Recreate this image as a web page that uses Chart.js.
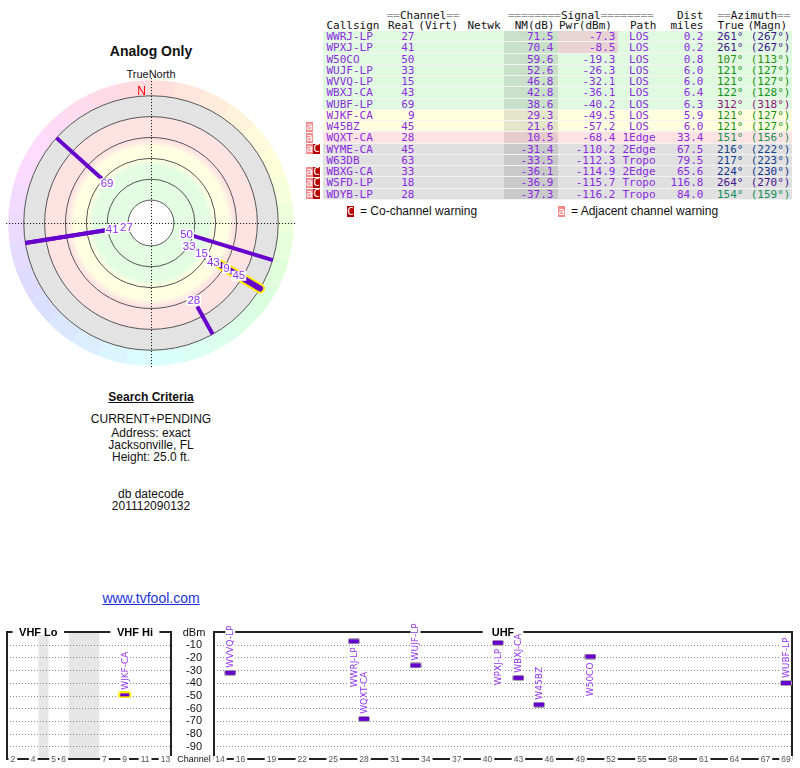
<!DOCTYPE html>
<html>
<head>
<meta charset="utf-8">
<title>Analog Only</title>
<script src="https://cdn.jsdelivr.net/npm/chart.js@4.4.1/dist/chart.umd.min.js"></script>
<style>
  html, body { margin: 0; padding: 0; }
  body { position: relative; width: 800px; height: 768px; overflow: hidden; background: #fff; color: #111;
         font-family: "Liberation Sans", Arial, sans-serif; }
  .abs { position: absolute; white-space: pre; }
  .mid { left: 0; width: 302px; text-align: center; font-size: 12px; line-height: 14px; }
  #tbl { position: absolute; left: 0; top: 0; font-family: "DejaVu Sans Mono", monospace; font-size: 11px; }
  .cell { position: absolute; white-space: pre; overflow: visible; }
  canvas { position: absolute; }
</style>
</head>
<body>
<div class="abs mid" style="top:43px;font-size:14px;font-weight:bold;line-height:17px">Analog Only</div>
<div class="abs mid" style="top:67.5px;font-size:11px;line-height:13px">TrueNorth</div>

<div class="abs mid" style="top:390px;font-weight:bold;text-decoration:underline">Search Criteria</div>
<div class="abs mid" style="top:412.3px">CURRENT+PENDING</div>
<div class="abs mid" style="top:425.7px">Address: exact</div>
<div class="abs mid" style="top:437.6px">Jacksonville, FL</div>
<div class="abs mid" style="top:450.3px">Height: 25.0 ft.</div>
<div class="abs mid" style="top:487.3px">db datecode</div>
<div class="abs mid" style="top:499px">201112090132</div>
<div class="abs mid" style="top:590px;font-size:14px;line-height:16px"><a href="#" style="color:#2233dd">www.tvfool.com</a></div>

<div id="tbl"></div>

<canvas id="polar" width="302" height="306" style="left:0;top:70px"></canvas>
<canvas id="vhf" width="178" height="168" style="left:0;top:600px"></canvas>
<canvas id="uhf" width="624" height="168" style="left:176px;top:600px"></canvas>

<script>
// Stations, in the order of the reference table
const callsigns = ['WWRJ-LP', 'WPXJ-LP', 'W50CO', 'WUJF-LP', 'WVVQ-LP', 'WBXJ-CA', 'WUBF-LP', 'WJKF-CA',
                   'W45BZ', 'WQXT-CA', 'WYME-CA', 'W63DB', 'WBXG-CA', 'WSFD-LP', 'WDYB-LP'];
const channels = [27, 41, 50, 33, 15, 43, 69, 9, 45, 28, 45, 63, 33, 18, 28];
const noiseMargin = [71.5, 70.4, 59.6, 52.6, 46.8, 42.8, 38.6, 29.3, 21.6, 10.5, -31.4, -33.5, -36.1, -36.9, -37.3];
const powerDbm = [-7.3, -8.5, -19.3, -26.3, -32.1, -36.1, -40.2, -49.5, -57.2, -68.4, -110.2, -112.3, -114.9, -115.7, -116.2];
const paths = ['LOS', 'LOS', 'LOS', 'LOS', 'LOS', 'LOS', 'LOS', 'LOS', 'LOS', '1Edge', '2Edge', 'Tropo', '2Edge', 'Tropo', 'Tropo'];
const distMiles = [0.2, 0.2, 0.8, 6.0, 6.0, 6.4, 6.3, 5.9, 6.0, 33.4, 67.5, 79.5, 65.6, 116.8, 84.0];
const azTrue = [261, 261, 107, 121, 121, 122, 312, 121, 121, 151, 216, 217, 224, 264, 154];
const azMagn = [267, 267, 113, 127, 127, 128, 318, 127, 127, 156, 222, 223, 230, 270, 159];
const adjWarn = [0, 0, 0, 0, 0, 0, 0, 0, 1, 1, 1, 0, 1, 1, 1];
const coWarn = [0, 0, 0, 0, 0, 0, 0, 0, 0, 0, 1, 0, 1, 1, 1];
const highlighted = 'WJKF-CA';

// Axes
const nmRings = [80, 60, 40, 20, 0, -20];
const dbmTicks = [-10, -20, -30, -40, -50, -60, -70, -80, -90];
const vhfTicks = [2, 4, 5, 6, 7, 9, 11, 13];
const uhfTicks = [14, 16, 19, 22, 25, 28, 31, 34, 37, 40, 43, 46, 49, 52, 55, 58, 61, 64, 67, 69];
const vhfBands = [['VHF Lo', 2, 6], ['VHF Hi', 7, 13]];
const uhfBands = [['UHF', 14, 69]];

const LINE = '#6600cc';
const LABEL = '#9030f0';
const TEXT = '#8a2be2';
const SANS = '"Liberation Sans", Arial, sans-serif';
Chart.defaults.font.family = SANS;

const azColor = az => `hsl(${az}, 75%, 32%)`;

// ---------- station table ----------
const tbl = document.getElementById('tbl');
function put(html, x0, x1, top, h, align, extra) {
    const d = document.createElement('div');
    d.className = 'cell';
    d.style.left = x0 + 'px';
    d.style.width = (x1 - x0) + 'px';
    d.style.top = top + 'px';
    d.style.height = h + 'px';
    d.style.lineHeight = h + 'px';
    d.style.textAlign = align;
    d.innerHTML = html;
    if (extra) Object.assign(d.style, extra);
    tbl.appendChild(d);
    return d;
}
const eq = s => `<span style="color:#9a9a9a">${s}</span>`;

// two header lines
put(eq('==') + 'Channel' + eq('=='), 386.7, 470, 9.5, 11, 'left');
put(eq('========') + 'Signal' + eq('========'), 508, 662, 9.5, 11, 'left');
put('Dist', 660, 703.5, 9.5, 11, 'right');
put(eq('==') + 'Azimuth' + eq('=='), 717.5, 796, 9.5, 11, 'left');
put('Callsign', 326.5, 390, 20.2, 11, 'left');
put('Real', 388, 416, 20.2, 11, 'left');
put('(Virt)', 418.3, 462, 20.2, 11, 'left');
put('Netwk', 467.5, 505, 20.2, 11, 'left');
put('NM(dB)', 505, 554.5, 20.2, 11, 'right');
put('Pwr(dBm)', 559, 620, 20.2, 11, 'left');
put('Path', 630, 660, 20.2, 11, 'left');
put('miles', 660, 703.5, 20.2, 11, 'right');
put('True', 717.5, 745, 20.2, 11, 'left');
put('(Magn)', 747.5, 796, 20.2, 11, 'left');

const ROW_TOP = 31.2, ROW_H = 11.25;
callsigns.forEach((cs, i) => {
    const top = ROW_TOP + i * ROW_H;
    const nm = noiseMargin[i];
    const bg = nm >= 35 ? '#e0fae0' : nm >= 15 ? '#ffffe0' : nm >= 0 ? '#ffe3e3' : '#e0e0e0';
    put('', 323, 792, top, ROW_H, 'left', { background: bg });
    put('', 504, 558, top, ROW_H, 'left', { background: 'rgba(0,0,0,0.1)' });
    if (powerDbm[i] > -10) put('', 558, 618, top, ROW_H, 'left', { background: '#e9d4d4' });
    put('', 323, 792, top + ROW_H - 1, 1, 'left', { background: '#f3f3f3' });

    const c = { color: TEXT };
    put(cs, 326.5, 400, top, ROW_H, 'left', c);
    put(String(channels[i]), 380, 414.5, top, ROW_H, 'right', c);
    put(nm.toFixed(1), 504, 553.5, top, ROW_H, 'right', c);
    put(powerDbm[i].toFixed(1), 558, 615.5, top, ROW_H, 'right', c);
    put(paths[i], 619, 659, top, ROW_H, 'center', c);
    put(distMiles[i].toFixed(1), 660, 703.5, top, ROW_H, 'right', c);
    put(azTrue[i] + '°', 717, 747, top, ROW_H, 'left', { color: azColor(azTrue[i]) });
    put('(' + azMagn[i] + '°)', 745, 790.5, top, ROW_H, 'right', { color: azColor(azTrue[i]) });

    if (adjWarn[i]) put('a', 306, 313, top + 0.6, ROW_H - 1.2, 'center', { background: '#f78a8a', color: '#fff' });
    if (coWarn[i]) put('C', 313, 320, top + 0.6, ROW_H - 1.2, 'center', { background: '#b50000', color: '#fff' });
});

// warning key under the table
put('C', 347, 354, 205.5, 11, 'center', { background: '#b50000', color: '#fff' });
put('= Co-channel warning', 360, 520, 205, 12, 'left', { fontFamily: SANS, fontSize: '12px', color: '#111' });
put('a', 558, 565, 205.5, 11, 'center', { background: '#f78a8a', color: '#fff' });
put('= Adjacent channel warning', 571, 780, 205, 12, 'left', { fontFamily: SANS, fontSize: '12px', color: '#111' });

// ---------- compass plot ----------
const NM_AT_CENTRE = 102;   // noise margin that would sit on the plot centre
const RING_LIMIT = 137;     // outer edge of the azimuth colour wheel, radial units
const nmEdge = nmRings[nmRings.length - 1];

function polarPoint(az, nm) {
    const r = NM_AT_CENTRE - nm, a = az * Math.PI / 180;
    return { x: r * Math.sin(a), y: r * Math.cos(a) };
}

const onPolar = callsigns.map((c, i) => i).filter(i => noiseMargin[i] > nmEdge);
const polarSets = [];
onPolar.forEach(i => {
    const seg = [polarPoint(azTrue[i], noiseMargin[i]), polarPoint(azTrue[i], nmEdge)];
    const base = { data: seg, showLine: true, pointRadius: 0, borderCapStyle: 'butt' };
    if (callsigns[i] === highlighted) {
        polarSets.push({ ...base, borderColor: '#ffee00', borderWidth: 10, borderCapStyle: 'round', order: 1 });
        polarSets.push({ ...base, borderColor: LINE, borderWidth: 6, borderCapStyle: 'round', order: 0 });
    } else {
        polarSets.push({ ...base, borderColor: LINE, borderWidth: 4, order: 2 });
    }
});

function polarGeom(chart) {
    const { x, y } = chart.scales;
    const cx = x.getPixelForValue(0), cy = y.getPixelForValue(0);
    const k = x.getPixelForValue(1) - cx;
    return { cx, cy, k, rad: nm => (NM_AT_CENTRE - nm) * k };
}

const polarFrame = {
    id: 'polarFrame',
    beforeDatasetsDraw(chart) {
        const ctx = chart.ctx;
        const { cx, cy, k, rad } = polarGeom(chart);
        const rEdge = rad(nmEdge), rRing = RING_LIMIT * k;
        ctx.save();

        // azimuth colour wheel round the outside
        for (let s = 0; s < 30; s++) {
            const a0 = -2 + 12 * s;
            const t0 = (a0 - 90) * Math.PI / 180, t1 = (a0 + 12.6 - 90) * Math.PI / 180;
            ctx.beginPath();
            ctx.arc(cx, cy, rRing, t0, t1);
            ctx.arc(cx, cy, rEdge, t1, t0, true);
            ctx.closePath();
            ctx.fillStyle = `hsl(${(a0 + 6 + 360) % 360}, 100%, 93%)`;
            ctx.fill();
        }

        // signal bands
        const g = ctx.createRadialGradient(cx, cy, 0, cx, cy, rEdge);
        const f = nm => rad(nm) / rEdge;
        g.addColorStop(0, '#e2fde2');
        g.addColorStop(f(47), '#e2fde2');
        g.addColorStop(f(41), '#ffffe2');
        g.addColorStop(f(29), '#ffffe2');
        g.addColorStop(f(22), '#ffe3e3');
        g.addColorStop(f(0.2), '#ffe3e3');
        g.addColorStop(f(0), '#e3e3e3');
        g.addColorStop(1, '#e3e3e3');
        ctx.fillStyle = g;
        ctx.beginPath();
        ctx.arc(cx, cy, rEdge, 0, 2 * Math.PI);
        ctx.fill();
        ctx.fillStyle = '#fff';
        ctx.beginPath();
        ctx.arc(cx, cy, rad(nmRings[0]), 0, 2 * Math.PI);
        ctx.fill();

        ctx.strokeStyle = '#555';
        ctx.lineWidth = 1;
        nmRings.forEach(nm => {
            ctx.beginPath();
            ctx.arc(cx, cy, rad(nm), 0, 2 * Math.PI);
            ctx.stroke();
        });

        // dotted cross hairs
        const ext = rRing + 2;
        const hx = Math.round(cx) + 0.5, hy = Math.round(cy) + 0.5;
        ctx.strokeStyle = '#000';
        ctx.setLineDash([1, 2]);
        ctx.beginPath();
        ctx.moveTo(cx - ext, hy); ctx.lineTo(cx + ext, hy);
        ctx.moveTo(hx, cy - ext); ctx.lineTo(hx, cy + ext);
        ctx.stroke();
        ctx.setLineDash([]);

        ctx.fillStyle = '#ff0000';
        ctx.font = '12px ' + SANS;
        ctx.textAlign = 'right';
        ctx.textBaseline = 'middle';
        ctx.fillText('N', cx - 5, cy - rEdge - 4);
        ctx.restore();
    },
    afterDatasetsDraw(chart) {
        const ctx = chart.ctx;
        const { cx, cy, rad } = polarGeom(chart);
        ctx.save();
        ctx.font = '11.5px ' + SANS;
        ctx.textAlign = 'center';
        ctx.textBaseline = 'middle';
        // strongest first; labels on the same bearing get pushed outward
        const order = onPolar.slice().sort((a, b) => noiseMargin[b] - noiseMargin[a]);
        const placed = [];
        order.forEach(i => {
            let r = rad(noiseMargin[i]) - 7;
            placed.forEach(p => {
                if (Math.abs(p.az - azTrue[i]) <= 3 && r < p.r + 14.5) r = p.r + 14.5;
            });
            placed.push({ az: azTrue[i], r });
            const a = azTrue[i] * Math.PI / 180;
            const px = cx + r * Math.sin(a), py = cy - r * Math.cos(a);
            const t = String(channels[i]);
            const w = ctx.measureText(t).width;
            ctx.fillStyle = '#fff';
            ctx.fillRect(px - w / 2 - 1, py - 5, w + 2, 10);
            ctx.fillStyle = LABEL;
            ctx.fillText(t, px, py + 0.5);
        });
        ctx.restore();
    }
};

new Chart(document.getElementById('polar'), {
    type: 'scatter',
    data: { datasets: polarSets },
    options: {
        responsive: false,
        animation: false,
        events: [],
        layout: { padding: { left: 5, right: 5, top: 7, bottom: 7 } },
        scales: {
            x: { display: false, min: -140, max: 140 },
            y: { display: false, min: -140, max: 140 }
        },
        plugins: { legend: { display: false }, tooltip: { enabled: false } }
    },
    plugins: [polarFrame]
});

// ---------- signal strength by channel ----------
// VHF is laid out by the band plan: one empty slot for 72-76 MHz, three for the FM / air gap
const vhfPos = ch => ch <= 4 ? ch - 2 : ch <= 6 ? ch - 1 : ch + 2;
const uhfPos = ch => ch;
const LABEL_FLIP_DBM = -20;   // markers above this get their name hung underneath

function markerImage(glow) {
    const c = document.createElement('canvas');
    const g = c.getContext('2d');
    if (glow) {
        c.width = 13; c.height = 7;
        g.fillStyle = '#ffee00';
        g.beginPath(); g.roundRect(0, 0, 13, 7, 3); g.fill();
        g.fillStyle = LINE;
        g.fillRect(2, 2, 9, 3);
    } else {
        c.width = 12; c.height = 6;
        g.fillStyle = '#a9a9a9';
        g.beginPath(); g.roundRect(0, 0, 12, 6, 2); g.fill();
        g.fillStyle = LINE;
        g.fillRect(1, 1, 10, 4);
    }
    return c;
}
const plainMark = markerImage(false);
const glowMark = markerImage(true);

const vhfIdx = callsigns.map((c, i) => i).filter(i => channels[i] <= 13 && powerDbm[i] >= -100);
const uhfIdx = callsigns.map((c, i) => i).filter(i => channels[i] >= 14 && powerDbm[i] >= -100);

function markerSet(idx, pos) {
    return [{
        data: idx.map(i => ({ x: pos(channels[i]), y: powerDbm[i] })),
        pointStyle: idx.map(i => callsigns[i] === highlighted ? glowMark : plainMark),
        pointRadius: 6,
        clip: false
    }];
}

function spectrumPanel(cfg) {
    return {
        id: 'panel' + cfg.name,
        beforeDatasetsDraw(chart) {
            const { ctx, chartArea: a, scales: { x, y } } = chart;
            ctx.save();
            (cfg.gaps || []).forEach(([p0, p1]) => {
                const x0 = x.getPixelForValue(p0), x1 = x.getPixelForValue(p1);
                ctx.fillStyle = '#e6e6e6';
                ctx.fillRect(x0, a.top, x1 - x0, a.bottom - a.top);
            });
            ctx.strokeStyle = '#8a8a8a';
            ctx.lineWidth = 1;
            ctx.setLineDash([1, 2]);
            dbmTicks.forEach(v => {
                const py = Math.round(y.getPixelForValue(v)) + 0.5;
                ctx.beginPath(); ctx.moveTo(a.left, py); ctx.lineTo(a.right, py); ctx.stroke();
            });
            ctx.setLineDash([]);
            ctx.strokeStyle = '#222';
            ctx.lineWidth = 2;
            ctx.strokeRect(a.left, a.top, a.right - a.left, a.bottom - a.top);

            ctx.textAlign = 'center';
            ctx.textBaseline = 'middle';
            // band names sit in the top edge
            ctx.font = 'bold 11px ' + SANS;
            cfg.bands.forEach(([name, c0, c1]) => {
                const px = (x.getPixelForValue(cfg.pos(c0)) + x.getPixelForValue(cfg.pos(c1))) / 2;
                const w = ctx.measureText(name).width;
                ctx.fillStyle = '#fff';
                ctx.fillRect(px - w / 2 - cfg.pad, a.top - 3, w + 2 * cfg.pad, 6);
                ctx.fillStyle = '#000';
                ctx.fillText(name, px, a.top + 0.5);
            });
            // channel numbers sit in the bottom edge
            ctx.font = '8.5px ' + SANS;
            cfg.ticks.forEach(ch => {
                const px = x.getPixelForValue(cfg.pos(ch));
                const t = String(ch), w = ctx.measureText(t).width;
                ctx.fillStyle = '#fff';
                ctx.fillRect(px - w / 2 - 2, a.bottom - 3, w + 4, 6);
                ctx.fillStyle = '#555';
                ctx.fillText(t, px, a.bottom + 0.5);
            });
            if (cfg.dbmAxis) {
                ctx.fillStyle = '#111';
                ctx.font = '11px ' + SANS;
                ctx.textAlign = 'right';
                dbmTicks.forEach(v => ctx.fillText(String(v), a.left - 12, y.getPixelForValue(v) + 0.5));
                ctx.textAlign = 'center';
                ctx.fillText('dBm', a.left - 20, a.top + 0.5);
                ctx.font = '9px ' + SANS;
                ctx.fillText('Channel', a.left - 20, a.bottom + 0.5);
            }
            ctx.restore();
        },
        afterDatasetsDraw(chart) {
            const { ctx, scales: { x, y } } = chart;
            ctx.save();
            ctx.font = '9px "DejaVu Sans", sans-serif';
            ctx.textAlign = 'left';
            ctx.textBaseline = 'middle';
            cfg.idx.forEach(i => {
                const px = x.getPixelForValue(cfg.pos(channels[i]));
                const py = y.getPixelForValue(powerDbm[i]);
                const t = callsigns[i], w = ctx.measureText(t).width;
                const x0 = powerDbm[i] < LABEL_FLIP_DBM ? 5 : -6 - w;
                ctx.save();
                ctx.translate(px, py);
                ctx.rotate(-Math.PI / 2);
                ctx.fillStyle = '#fff';
                ctx.fillRect(x0 - 1, -5, w + 2, 10);
                ctx.fillStyle = LABEL;
                ctx.fillText(t, x0, 0.5);
                ctx.restore();
            });
            ctx.restore();
        }
    };
}

const panelOptions = (padding, xMin, xMax) => ({
    responsive: false,
    animation: false,
    events: [],
    layout: { padding },
    scales: {
        x: { display: false, min: xMin, max: xMax },
        y: { display: false, min: -100, max: 0 }
    },
    plugins: { legend: { display: false }, tooltip: { enabled: false } }
});

new Chart(document.getElementById('vhf'), {
    type: 'scatter',
    data: { datasets: markerSet(vhfIdx, vhfPos) },
    options: panelOptions({ left: 7, right: 4, top: 32, bottom: 9 }, -0.58, 15.55),
    plugins: [spectrumPanel({
        name: 'Vhf', pos: vhfPos, ticks: vhfTicks, bands: vhfBands, pad: 6.5, idx: vhfIdx,
        gaps: [[vhfPos(4) + 0.5, vhfPos(5) - 0.5], [vhfPos(6) + 0.5, vhfPos(7) - 0.5]]
    })]
});

new Chart(document.getElementById('uhf'), {
    type: 'scatter',
    data: { datasets: markerSet(uhfIdx, uhfPos) },
    options: panelOptions({ left: 38, right: 8, top: 32, bottom: 9 }, 13.42, 69.58),
    plugins: [spectrumPanel({
        name: 'Uhf', pos: uhfPos, ticks: uhfTicks, bands: uhfBands, pad: 9, idx: uhfIdx, dbmAxis: true
    })]
});
</script>
</body>
</html>
